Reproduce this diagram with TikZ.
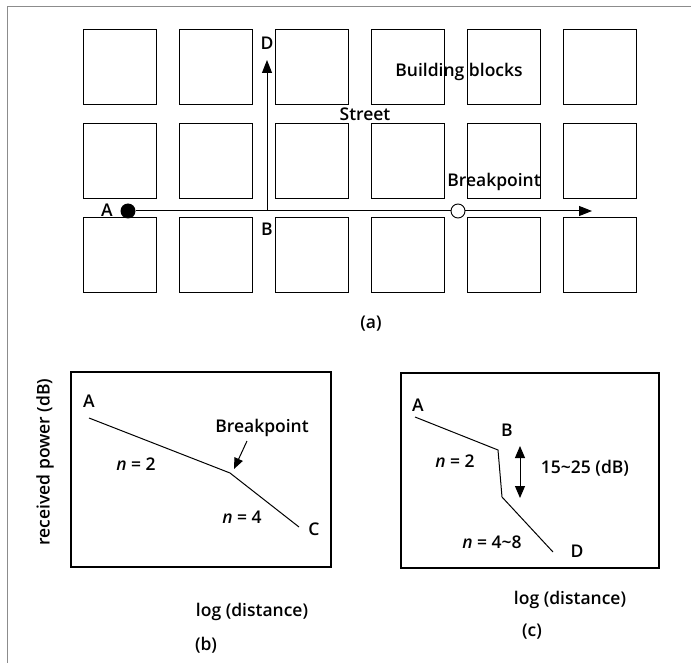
\documentclass[tikz,border=0pt]{standalone}
\usepackage{fontspec}
\setmainfont{Open Sans}[UprightFont=* Semibold,ItalicFont=* Semibold Italic]
\usetikzlibrary{arrows.meta}
\begin{document}
\begin{tikzpicture}[x=1pt,y=-1pt,
  block/.style={draw,line width=1.2pt,minimum width=73pt,minimum height=75pt,anchor=north west,inner sep=0pt},
  lbl/.style={font=\fontsize{17.5}{20}\selectfont,inner sep=0pt},
  panel/.style={draw,line width=1.2pt},
  curve/.style={line width=1pt},
  tri/.style={-{Triangle[length=13pt,width=10pt]}},
  frame/.style={draw=black!45,line width=0.6pt}]
\useasboundingbox (0,0) rectangle (691,663);
% outer frame fragments
\coordinate (f1) at (7,6); \coordinate (f2) at (691,6); \coordinate (f3) at (7,663);
\draw[frame] (f2) -- (f1) -- (f3);
% building blocks
\foreach \c/\x in {1/83,2/179,3/275,4/371,5/467,6/563}{
  \foreach \r/\y in {1/29,2/123,3/217}{
    \node[block] (b\c\r) at (\x,\y) {};
  }}
% streets
\node[circle,fill=black,minimum size=15pt,inner sep=0pt] (dotA) at (128,211) {};
\node[circle,draw,fill=white,line width=0.9pt,minimum size=14pt,inner sep=0pt] (bp) at (458,211) {};
\coordinate (Bj) at (267,211);
\coordinate (endR) at (592,211);
\coordinate (endD) at (267,60);
\draw[line width=1pt] (dotA) -- (bp);
\draw[line width=1pt,tri] (bp) -- (endR);
\draw[line width=1pt,tri] (Bj) -- (endD);
\node[lbl] (lA) at (107,210) {A};
\node[lbl] (lB) at (267,229) {B};
\node[lbl] (lD) at (267,43) {D};
\node[lbl] (lbb) at (459,72) {Building blocks};
\node[lbl] (lst) at (365,114) {Street};
\node[lbl] (lbp) at (494,182) {Breakpoint};
\node[lbl] (la) at (371,324) {(a)};
% panel (b)
\draw[panel] (71,372) rectangle (331,567);
\coordinate (pA) at (89,418);
\coordinate (pK) at (230,473);
\coordinate (pC) at (299,527);
\draw[curve] (pA) -- (pK) -- (pC);
\node[lbl] (bA) at (89,401) {A};
\node[lbl] (bC) at (314,529) {C};
\node[lbl] (bbp) at (262,428) {Breakpoint};
\coordinate (bar1) at (247,441);
\coordinate (bar2) at (234,469);
\draw[line width=1pt,-{Triangle[length=11pt,width=9pt]}] (bar1) -- (bar2);
\node[lbl] (bn2) at (136,464) {\textit{n} = 2};
\node[lbl] (bn4) at (242,517) {\textit{n} = 4};
\node[lbl,rotate=90] (ylab) at (45,462) {received power (dB)};
\node[lbl] (bx) at (252,612) {log (distance)};
\node[lbl] (lb) at (206,645) {(b)};
% panel (c)
\draw[panel] (401,373) rectangle (659,568);
\coordinate (cA) at (415,417);
\coordinate (cB) at (498,450);
\coordinate (cB2) at (502,497);
\coordinate (cD) at (553,552);
\draw[curve] (cA) -- (cB) -- (cB2) -- (cD);
\node[lbl] (ccA) at (418,405) {A};
\node[lbl] (ccB) at (507,430) {B};
\node[lbl] (ccD) at (577,551) {D};
\coordinate (dt) at (520,446);
\coordinate (db) at (520,498);
\draw[line width=1pt,{Triangle[length=12pt,width=10pt]}-{Triangle[length=12pt,width=10pt]}] (dt) -- (db);
\node[lbl] (cdb) at (585,468) {15\textasciitilde 25 (dB)};
\node[lbl] (cn2) at (455,461) {\textit{n} = 2};
\node[lbl] (cn4) at (492,542) {\textit{n} = 4\textasciitilde 8};
\node[lbl] (cx) at (570,600) {log (distance)};
\node[lbl] (lc) at (532,632) {(c)};
\end{tikzpicture}
\end{document}
